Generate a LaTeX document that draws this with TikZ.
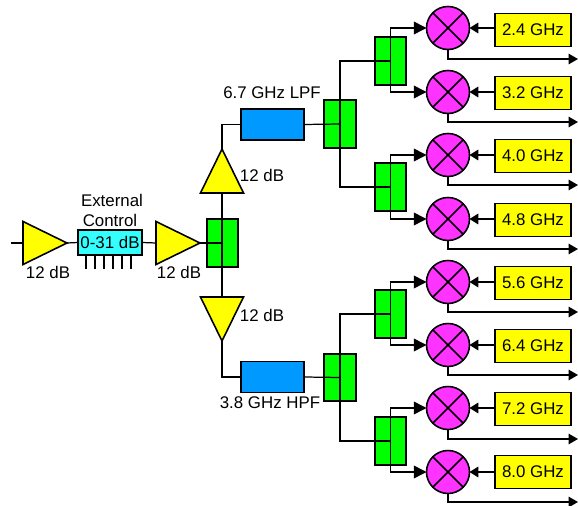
\documentclass[tikz,border=0pt]{standalone}
\usepackage{fontspec}
\setmainfont{Liberation Sans}
\usetikzlibrary{shapes.geometric,arrows.meta}
\definecolor{ampyellow}{HTML}{FFFF00}
\definecolor{splitgreen}{HTML}{00FF00}
\definecolor{mixpink}{HTML}{FF33FF}
\definecolor{filtblue}{HTML}{0099FF}
\definecolor{attcyan}{HTML}{33FFFF}
\begin{document}
\begin{tikzpicture}[x=0.02cm,y=-0.02cm,line width=0.7pt,
    every node/.style={font=\fontsize{9.6}{11}\selectfont,inner sep=0pt,outer sep=0pt,line width=0.9pt},
    amp/.style={draw,fill=ampyellow,isosceles triangle,isosceles triangle stretches,minimum width=0.86cm,minimum height=0.88cm},
    splitter/.style={draw,fill=splitgreen,minimum width=0.63cm,minimum height=0.95cm},
    filt/.style={draw,fill=filtblue,minimum width=1.26cm,minimum height=0.62cm},
    lo/.style={draw,fill=ampyellow,minimum width=1.52cm,minimum height=0.66cm},
    mixer/.style={draw,circle,fill=mixpink,minimum size=0.86cm,
      path picture={\draw[line width=0.85pt] (path picture bounding box.north west) -- (path picture bounding box.south east);
        \draw[line width=0.85pt] (path picture bounding box.north east) -- (path picture bounding box.south west);}},
    sig/.style={line width=0.85pt,-{Triangle[length=7.2pt,width=7.2pt]}},
    lofeed/.style={line width=0.85pt,-{Triangle[length=5pt,width=6pt]}},
    outp/.style={line width=0.85pt,-{Triangle[length=5.4pt,width=6pt]}}]
  \useasboundingbox (0,0) rectangle (578,506);
  % input side
  \coordinate (in) at (11,243);
  \node[amp,anchor=apex] (amp1) at (67,243) {};
  \node[draw,fill=attcyan,minimum width=1.28cm,minimum height=0.5cm] (att) at (110,242.5) {0-31 dB};
  \node[amp,anchor=apex] (amp2) at (200,243) {};
  \node[splitter] (split0) at (222.5,243) {};
  \node[amp,anchor=apex,shape border rotate=90] (ampup) at (222,149) {};
  \node[amp,anchor=apex,shape border rotate=270] (ampdn) at (222,341) {};
  \node (gain1) at (48,272) {12 dB};
  \node (gain2) at (179,272) {12 dB};
  \node (gain3) at (262,175) {12 dB};
  \node (gain4) at (262,315) {12 dB};
  \node (ctrl1) at (112,200) {External};
  \node (ctrl2) at (110,220) {Control};
  % filters
  \node[filt] (lpf) at (272.5,124.5) {};
  \node[filt] (hpf) at (272.5,377) {};
  \node (lpftxt) at (272,93) {6.7 GHz LPF};
  \node (hpftxt) at (270,403) {3.8 GHz HPF};
  \node[splitter] (split1) at (340,124) {};
  \node[splitter] (split2) at (340,377.5) {};
  \node[splitter] (sub1) at (390.5,61) {};
  \node[splitter] (sub2) at (390.5,187) {};
  \node[splitter] (sub3) at (390.5,314) {};
  \node[splitter] (sub4) at (390.5,441) {};
  % mixers
  \node[mixer] (mix1) at (448,28) {};
  \node[mixer] (mix2) at (448,92) {};
  \node[mixer] (mix3) at (448,155) {};
  \node[mixer] (mix4) at (448,219) {};
  \node[mixer] (mix5) at (448,282) {};
  \node[mixer] (mix6) at (448,345) {};
  \node[mixer] (mix7) at (448,408) {};
  \node[mixer] (mix8) at (448,472) {};
  \node[lo] (lo1) at (533,30) {2.4 GHz};
  \node[lo] (lo2) at (533,93) {3.2 GHz};
  \node[lo] (lo3) at (533,156) {4.0 GHz};
  \node[lo] (lo4) at (533,220) {4.8 GHz};
  \node[lo] (lo5) at (533,283) {5.6 GHz};
  \node[lo] (lo6) at (533,346) {6.4 GHz};
  \node[lo] (lo7) at (533,409) {7.2 GHz};
  \node[lo] (lo8) at (533,472) {8.0 GHz};
  \coordinate (out1) at (578,59);
  \coordinate (out2) at (578,122);
  \coordinate (out3) at (578,185);
  \coordinate (out4) at (578,249);
  \coordinate (out5) at (578,312);
  \coordinate (out6) at (578,375);
  \coordinate (out7) at (578,439);
  \coordinate (out8) at (578,502);
  % main path
  \draw (in) -- (amp1.lower side);
  \draw (amp1.apex) -- (att.west);
  \draw (att.east) -- (amp2.lower side);
  \draw (amp2.apex) -- (split0.center);
  \draw (ampup.lower side) -- (ampdn.lower side);
  \draw (lpf.west) -| (ampup.apex);
  \draw (hpf.west) -| (ampdn.apex);
  \draw (lpf.east) -- (split1.center);
  \draw (hpf.east) -- (split2.center);
  \draw (sub1.center) -| (split1.center) |- (sub2.center);
  \draw (sub3.center) -| (split2.center) |- (sub4.center);
  % control pins
  \coordinate (pin1) at (86,269);
  \coordinate (pin2) at (95,269);
  \coordinate (pin3) at (104,269);
  \coordinate (pin4) at (113,269);
  \coordinate (pin5) at (122,269);
  \coordinate (pin6) at (131,269);
  \draw[line width=0.85pt] (pin1) -- (pin1 |- att.south);
  \draw[line width=0.85pt] (pin2) -- (pin2 |- att.south);
  \draw[line width=0.85pt] (pin3) -- (pin3 |- att.south);
  \draw[line width=0.85pt] (pin4) -- (pin4 |- att.south);
  \draw[line width=0.85pt] (pin5) -- (pin5 |- att.south);
  \draw[line width=0.85pt] (pin6) -- (pin6 |- att.south);
  % into the mixers
  \draw[sig] (sub1.center) |- (mix1.west);
  \draw[sig] (sub1.center) |- (mix2.west);
  \draw[sig] (sub2.center) |- (mix3.west);
  \draw[sig] (sub2.center) |- (mix4.west);
  \draw[sig] (sub3.center) |- (mix5.west);
  \draw[sig] (sub3.center) |- (mix6.west);
  \draw[sig] (sub4.center) |- (mix7.west);
  \draw[sig] (sub4.center) |- (mix8.west);
  \draw[lofeed] (lo1.west |- mix1.east) -- (mix1.east);
  \draw[lofeed] (lo2.west |- mix2.east) -- (mix2.east);
  \draw[lofeed] (lo3.west |- mix3.east) -- (mix3.east);
  \draw[lofeed] (lo4.west |- mix4.east) -- (mix4.east);
  \draw[lofeed] (lo5.west |- mix5.east) -- (mix5.east);
  \draw[lofeed] (lo6.west |- mix6.east) -- (mix6.east);
  \draw[lofeed] (lo7.west |- mix7.east) -- (mix7.east);
  \draw[lofeed] (lo8.west |- mix8.east) -- (mix8.east);
  \draw[outp] (mix1.south) |- (out1);
  \draw[outp] (mix2.south) |- (out2);
  \draw[outp] (mix3.south) |- (out3);
  \draw[outp] (mix4.south) |- (out4);
  \draw[outp] (mix5.south) |- (out5);
  \draw[outp] (mix6.south) |- (out6);
  \draw[outp] (mix7.south) |- (out7);
  \draw[outp] (mix8.south) |- (out8);
\end{tikzpicture}
\end{document}
